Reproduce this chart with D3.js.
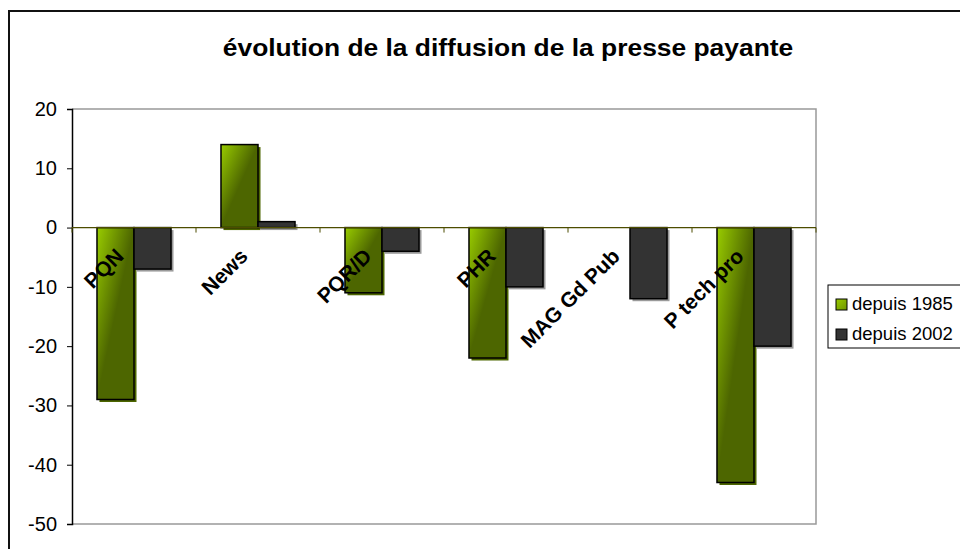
<!DOCTYPE html>
<html>
<head>
  <meta charset="UTF-8">
  <title>évolution de la diffusion de la presse payante</title>
  <script src="https://d3js.org/d3.v7.min.js"></script>
  <style>
    body { margin: 0; background: #fff; }
    text { font-family: Arial, "Liberation Sans", sans-serif; }
  </style>
</head>
<body>
  <div id="chart"></div>

  <script>
    const categories = ["PQN", "News", "PQR/D", "PHR", "MAG Gd Pub", "P tech pro"];
    const seriesNames = ["depuis 1985", "depuis 2002"];
    const since1985 = [-29, 14, -11, -22, null, -43];
    const since2002 = [-7, 1, -4, -10, -12, -20];
    const yTicks = [-50, -40, -30, -20, -10, 0, 10, 20];

    const W = 960, H = 549;
    const plot = { left: 72, right: 816, top: 109, bottom: 524 };

    const svg = d3.select("#chart")
      .append("svg")
      .attr("width", W)
      .attr("height", H);

    // gradient for green bars
    const defs = svg.append("defs");
    const grad = defs.append("linearGradient")
      .attr("id", "greenGrad")
      .attr("x1", 0).attr("y1", 0).attr("x2", 1).attr("y2", 1);
    grad.append("stop").attr("offset", "0%").attr("stop-color", "#99cc00");
    grad.append("stop").attr("offset", "50%").attr("stop-color", "#4d6600");
    grad.append("stop").attr("offset", "100%").attr("stop-color", "#4d6600");

    const legGrad = defs.append("linearGradient")
      .attr("id", "legGrad")
      .attr("x1", 0).attr("y1", 0).attr("x2", 1).attr("y2", 1);
    legGrad.append("stop").attr("offset", "0%").attr("stop-color", "#99cc00");
    legGrad.append("stop").attr("offset", "100%").attr("stop-color", "#6f9400");

    // chart border
    svg.append("rect")
      .attr("x", 9).attr("y", 11)
      .attr("width", 1100).attr("height", 600)
      .attr("fill", "none")
      .attr("stroke", "#111")
      .attr("stroke-width", 2);

    svg.append("text")
      .attr("transform", "translate(508,56) scale(1.1,1)")
      .attr("text-anchor", "middle")
      .style("font-size", "24px")
      .style("font-weight", "bold")
      .text("évolution de la diffusion de la presse payante");

    const x0 = d3.scaleBand()
      .domain(categories)
      .range([plot.left, plot.right]);

    const x1 = d3.scaleBand()
      .domain(seriesNames)
      .range([0, x0.bandwidth()])
      .paddingInner(0)
      .paddingOuter(0.675);

    const y = d3.scaleLinear()
      .domain([-50, 20])
      .range([plot.bottom, plot.top]);

    // plot area frame (gray top / right / bottom)
    svg.append("path")
      .attr("d", `M${plot.left},${plot.top}H${plot.right}V${plot.bottom}H${plot.left}`)
      .attr("fill", "none")
      .attr("stroke", "#999")
      .attr("stroke-width", 1.5);

    // y axis
    const yAxis = svg.append("g")
      .attr("transform", `translate(${plot.left},0)`)
      .call(d3.axisLeft(y).tickValues(yTicks).tickSize(5).tickPadding(10).tickFormat(d => String(d)));
    yAxis.select(".domain").attr("stroke", "#000").attr("stroke-width", 1.5);
    yAxis.selectAll(".tick line").attr("stroke", "#000");
    yAxis.selectAll("text")
      .style("font-size", "20px")
      .style("font-family", "Arial, 'Liberation Sans', sans-serif")
      .attr("fill", "#000");

    const rows = categories.map((c, i) => ({
      cat: c,
      vals: [
        { s: seriesNames[0], v: since1985[i] },
        { s: seriesNames[1], v: since2002[i] }
      ]
    }));

    const groups = svg.selectAll(".grp")
      .data(rows)
      .enter()
      .append("g")
      .attr("class", "grp")
      .attr("transform", d => `translate(${x0(d.cat)},0)`);

    const bars = groups.selectAll(".bar")
      .data(d => d.vals.filter(v => v.v !== null))
      .enter();

    // shadows
    bars.append("rect")
      .attr("x", d => x1(d.s) + 2.5)
      .attr("y", d => Math.min(y(d.v), y(0)) + 2.5)
      .attr("width", x1.bandwidth())
      .attr("height", d => Math.abs(y(d.v) - y(0)))
      .attr("fill", d => d.s === seriesNames[0] ? "#4d6600" : "#9a9a9a");

    bars.append("rect")
      .attr("class", "bar")
      .attr("x", d => x1(d.s))
      .attr("y", d => Math.min(y(d.v), y(0)))
      .attr("width", x1.bandwidth())
      .attr("height", d => Math.abs(y(d.v) - y(0)))
      .attr("fill", d => d.s === seriesNames[0] ? "url(#greenGrad)" : "#333333")
      .attr("stroke", "#000")
      .attr("stroke-width", 1.5);

    // zero line with category ticks
    const xAxis = svg.append("g")
      .attr("transform", `translate(0,${y(0)})`);
    xAxis.append("line")
      .attr("x1", plot.left).attr("x2", plot.right)
      .attr("stroke", "#4d4d00").attr("stroke-width", 1.2);
    const bounds = categories.map(c => x0(c)).concat([plot.right]);
    xAxis.selectAll(".xt")
      .data(bounds)
      .enter()
      .append("line")
      .attr("x1", d => d).attr("x2", d => d)
      .attr("y1", 0).attr("y2", 5)
      .attr("stroke", "#4d4d00");

    // rotated category labels
    svg.selectAll(".cat")
      .data(categories)
      .enter()
      .append("text")
      .attr("class", "cat")
      .attr("text-anchor", "end")
      .attr("transform", d => `translate(${x0(d) + x0.bandwidth() / 2 - 9},${y(0) + 30}) rotate(-45)`)
      .style("font-size", "21px")
      .style("font-weight", "bold")
      .text(d => d);

    // legend
    const leg = svg.append("g").attr("transform", "translate(828,285)");
    leg.append("rect")
      .attr("width", 200).attr("height", 63)
      .attr("fill", "#fff")
      .attr("stroke", "#000").attr("stroke-width", 1);
    const li = leg.selectAll(".li")
      .data(seriesNames)
      .enter()
      .append("g")
      .attr("transform", (d, i) => `translate(8,${14 + i * 30})`);
    li.append("rect")
      .attr("width", 11).attr("height", 11)
      .attr("fill", (d, i) => i === 0 ? "url(#legGrad)" : "#333333")
      .attr("stroke", "#000").attr("stroke-width", 1);
    li.append("text")
      .attr("x", 16)
      .attr("y", 11)
      .style("font-size", "18.5px")
      .text(d => d);
  </script>
</body>
</html>
